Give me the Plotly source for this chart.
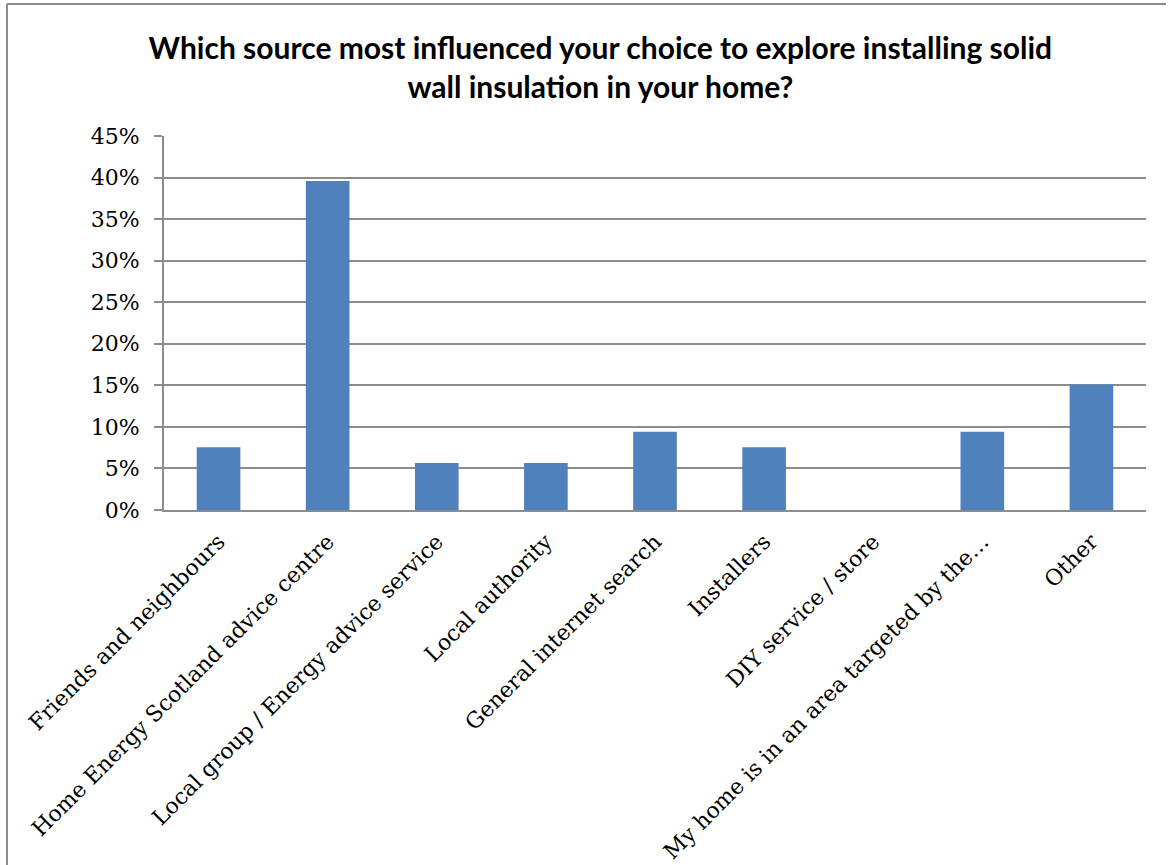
import plotly.graph_objects as go

categories = [
    "Friends and neighbours",
    "Home Energy Scotland advice centre",
    "Local group / Energy advice service",
    "Local authority",
    "General internet search",
    "Installers",
    "DIY service / store",
    "My home is in an area targeted by the…",
    "Other",
]
values = [0.0755, 0.396, 0.0566, 0.0566, 0.0943, 0.0755, 0.0, 0.0943, 0.151]
y_ticks = [0, 0.05, 0.10, 0.15, 0.20, 0.25, 0.30, 0.35, 0.40, 0.45]
y_tick_labels = ["0%", "5%", "10%", "15%", "20%", "25%", "30%", "35%", "40%", "45%"]

W, H = 1168, 865
ML, MR, MT, MB = 164, 22, 136, 355
pw = W - ML - MR
ph = H - MT - MB

fig = go.Figure(go.Bar(x=categories, y=values, marker=dict(color="#4F81BD", line=dict(width=0)), width=0.4))

border_color = "#8c8c8c"
x_left = (7 - ML) / pw
y_top = 1 + (MT - 4) / ph
x_right = (1166 - ML) / pw
y_bot = -(MB + 10) / ph

serif = "DejaVu Serif, Liberation Serif, serif"

fig.update_layout(
    width=W, height=H,
    margin=dict(l=ML, r=MR, t=MT, b=MB, autoexpand=False),
    paper_bgcolor="white", plot_bgcolor="white",
    showlegend=False,
    title=dict(
        text="<b>Which source most influenced your choice to explore installing solid<br>wall insulation in your home?</b>",
        x=0.514, xanchor="center", y=0.932, yanchor="top",
        font=dict(family="Lato, Open Sans, sans-serif", size=30, color="black"),
    ),
    xaxis=dict(
        tickangle=-45, tickfont=dict(family=serif, size=22, color="black"),
        showline=True, linecolor=border_color, linewidth=2,
        ticks="outside", ticklen=8, tickcolor="rgba(0,0,0,0)", showgrid=False,
        automargin=False,
    ),
    yaxis=dict(
        range=[0, 0.45], tickvals=y_ticks, ticktext=y_tick_labels,
        tickfont=dict(family=serif, size=22, color="black"),
        showgrid=True, gridcolor=border_color, gridwidth=2,
        showline=True, linecolor=border_color, linewidth=2,
        ticks="outside", ticklen=8, tickcolor=border_color, tickwidth=2,
        ticklabelstandoff=10,
        zeroline=False, automargin=False,
    ),
    shapes=[
        dict(type="line", xref="paper", yref="paper", x0=x_left, x1=x_right, y0=y_top, y1=y_top,
             line=dict(color=border_color, width=2)),
        dict(type="line", xref="paper", yref="paper", x0=x_left, x1=x_left, y0=y_top, y1=y_bot,
             line=dict(color=border_color, width=2)),
        dict(type="line", xref="paper", yref="paper", x0=-8 / pw, x1=0, y0=0, y1=0,
             line=dict(color=border_color, width=2)),
    ],
)

fig.write_html("out.html")
